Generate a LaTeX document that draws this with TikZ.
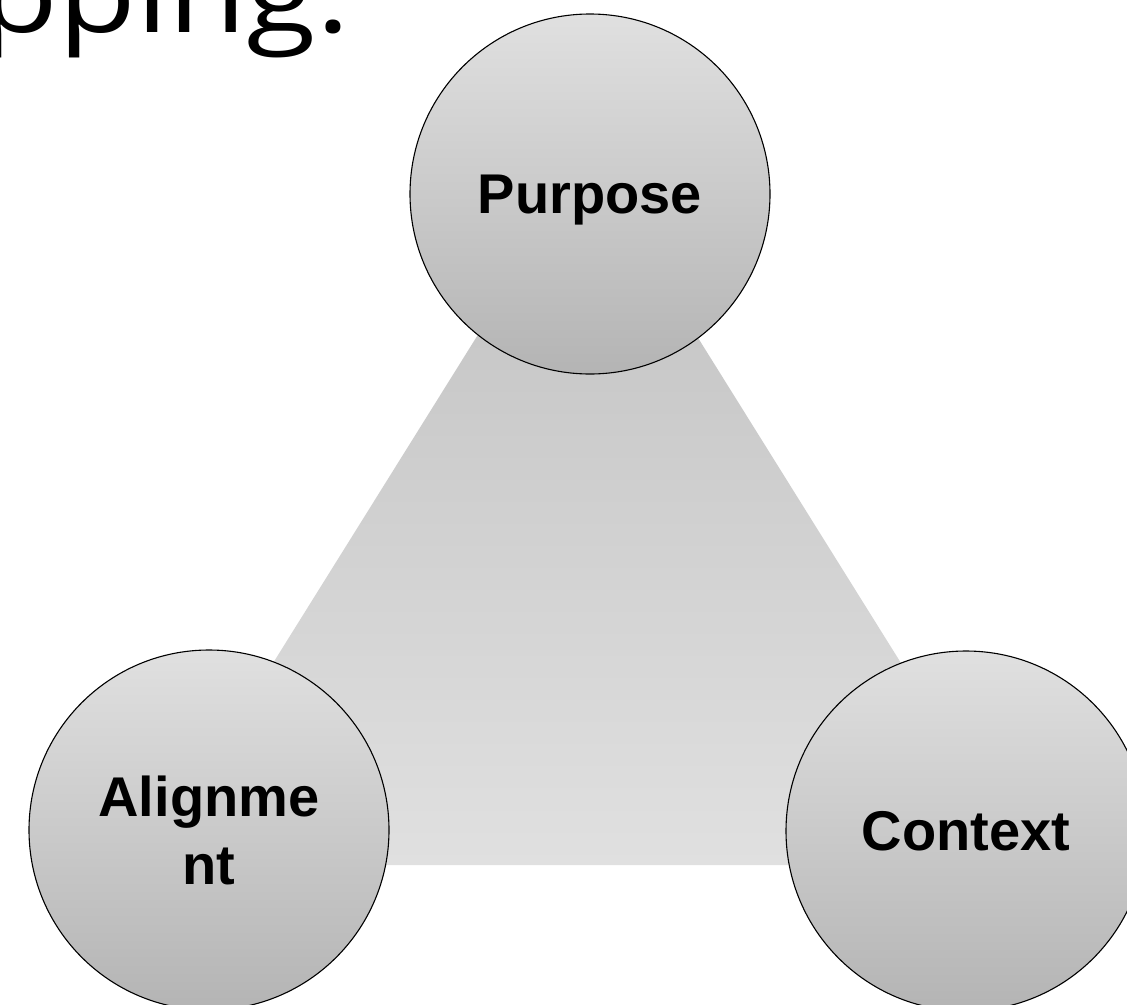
\documentclass[tikz,border=0pt]{standalone}
\usepackage{fontspec}
\setmainfont{Liberation Sans}
\newfontfamily\headfont[FakeStretch=1.2]{Open Sans}
\definecolor{circtop}{HTML}{E0E0E0}
\definecolor{circbot}{HTML}{B4B4B4}
\definecolor{tritop}{HTML}{C0C0C0}
\definecolor{tribot}{HTML}{E0E0E0}
\begin{document}
\begin{tikzpicture}[x=1pt,y=-1pt,
  circ/.style={circle, draw=black, line width=1.1pt, minimum size=360pt,
    inner sep=0pt, top color=circtop, bottom color=circbot,
    font=\fontsize{56}{68}\selectfont\bfseries, align=center, text depth=0pt},
  heading/.style={font=\headfont\fontsize{106}{120}\selectfont, inner sep=0pt}
]
\clip (0,0) rectangle (1127,1004);
\fill[white] (0,0) rectangle (1127,1004);
% background triangle
\coordinate (apex) at (587,160);
\coordinate (bl) at (147,865);
\coordinate (br) at (1027,865);
\shade[top color=tritop, bottom color=tribot] (apex) -- (br) -- (bl) -- cycle;
% heading fragment
\node[heading, anchor=base west] (head) at (-20,32) {pping.};
% circles
\node[circ] (purpose) at (590,194) {Purpose};
\node[circ] (alignment) at (209,830) {Alignme\\nt};
\node[circ] (context) at (966,831) {Context};
\end{tikzpicture}
\end{document}
